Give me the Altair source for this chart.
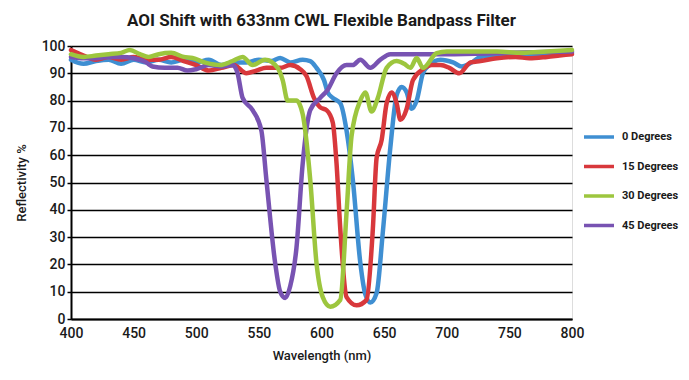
import altair as alt
import pandas as pd

series_names = ["0 Degrees", "15 Degrees", "30 Degrees", "45 Degrees"]
series_colors = ["#3f8fd2", "#d8383c", "#9dc63e", "#7853b2"]
draw_order = ["0 Degrees", "15 Degrees", "45 Degrees", "30 Degrees"]

wl_0 = [400, 410, 420, 430, 440, 450, 460, 470, 480, 490, 500, 510, 520, 530, 540, 550, 560, 567, 575, 585,
        591, 596, 602, 605, 609, 615, 620, 625, 631, 635, 639, 644, 649, 655, 660, 664, 668, 672, 676, 681,
        686, 695, 705, 712, 720, 727, 740, 760, 780, 800]
r_0 = [95, 93.5, 94.5, 95, 93.5, 95, 94, 95, 94, 95, 94, 95, 93, 94, 94, 95, 94.5, 95.6, 94, 95,
       94.5, 92, 87.5, 83, 81, 79, 69, 51, 20.5, 9, 6, 9.5, 32, 63, 82, 85, 83, 77, 80, 90,
       93, 95, 94, 92.5, 94, 96, 96.5, 97, 97, 97.5]

wl_15 = [400, 410, 420, 430, 440, 450, 460, 470, 480, 490, 500, 510, 520, 530, 540, 548, 556, 567, 575, 583,
         588, 594, 599, 604, 609, 612, 615, 620, 628, 636, 641, 644, 648, 652, 656, 660, 663, 668, 673, 681,
         688, 695, 702, 710, 719, 727, 740, 755, 766, 780, 790, 800]
r_15 = [98.5, 96.5, 95, 96, 95, 96, 95, 95, 96, 94.5, 93, 91, 92, 93, 90, 91, 92, 92, 93, 91.5,
        89, 81, 77.5, 76.5, 72, 57, 33, 8, 5, 7, 33, 59, 65.5, 79, 83, 79, 73, 77, 87.5, 91.5,
        93, 93, 92, 90, 94, 94.5, 95.5, 96, 95.5, 96, 96.5, 97]

wl_30 = [400, 410, 420, 430, 440, 447, 455, 462, 470, 480, 490, 497, 508, 519, 529, 537, 545, 555, 565, 569,
         573, 580, 585, 591, 596, 601, 607, 615, 620, 624, 631, 635, 640, 645, 652, 660, 666, 671, 676, 681,
         692, 700, 720, 740, 760, 780, 800]
r_30 = [97, 96, 96.5, 97, 97.5, 98.5, 97, 96, 97, 97.5, 96, 95.6, 93.8, 93, 94.5, 96, 93, 95, 92, 87.5,
        80, 80, 75, 51, 20.5, 8, 4.5, 7, 39, 67, 80, 83, 76, 81, 92, 94.5, 93.5, 92, 95.6, 92,
        97.4, 98, 98, 98, 97.5, 98, 98.5]

wl_45 = [400, 410, 420, 430, 440, 450, 460, 465, 475, 485, 493, 500, 510, 520, 529, 533, 537, 545, 552, 556,
         563, 567, 571, 575, 580, 585, 591, 599, 605, 612, 620, 625, 631, 639, 647, 655, 665, 680, 700, 750, 800]
r_45 = [96, 95.5, 95.5, 96, 96, 95.5, 94, 92.5, 92, 92, 91, 91.5, 93, 92.5, 93, 90, 81, 76.5, 69, 51,
        20.5, 10, 7.7, 12, 26, 57, 76.5, 81, 84, 90, 93, 93, 95, 92, 95, 97, 97, 97, 97, 97.5, 98]

series_data = {
    "0 Degrees": (wl_0, r_0),
    "15 Degrees": (wl_15, r_15),
    "30 Degrees": (wl_30, r_30),
    "45 Degrees": (wl_45, r_45),
}

x_ticks = [400, 450, 500, 550, 600, 650, 700, 750, 800]
y_ticks = [0, 10, 20, 30, 40, 50, 60, 70, 80, 90, 100]

rows = []
for name in draw_order:
    wl, rv = series_data[name]
    for w, r in zip(wl, rv):
        rows.append({"Wavelength": w, "Reflectivity": r, "Series": name})
df = pd.DataFrame(rows)

FONT = "Roboto"
TXT = "#1a1a1a"

chart = alt.Chart(df).mark_line(
    strokeWidth=4.5, interpolate="monotone", strokeJoin="round", strokeCap="round"
).encode(
    x=alt.X("Wavelength:Q",
            scale=alt.Scale(domain=[400, 800], nice=False, zero=False),
            axis=alt.Axis(values=x_ticks, title="Wavelength (nm)", grid=False, ticks=False,
                          domainColor="black", domainWidth=2, labelPadding=7, labelFlush=False,
                          labelFont=FONT, labelFontSize=14, labelFontWeight=500, labelColor=TXT,
                          titleFont=FONT, titleFontSize=13, titleFontWeight=500,
                          titleColor=TXT, titlePadding=9)),
    y=alt.Y("Reflectivity:Q",
            scale=alt.Scale(domain=[0, 100], nice=False),
            axis=alt.Axis(values=y_ticks, title="Reflectivity %", grid=True, gridColor="black",
                          gridWidth=1.6, gridOpacity=1, tickSize=4, tickColor="black", tickWidth=1.5,
                          domainColor="black", domainWidth=2, labelPadding=2, labelFlush=False,
                          labelFont=FONT, labelFontSize=14, labelFontWeight=500, labelColor=TXT,
                          titleFont=FONT, titleFontSize=13, titleFontWeight=500,
                          titleColor=TXT, titlePadding=13)),
    color=alt.Color("Series:N",
                    scale=alt.Scale(domain=series_names, range=series_colors),
                    legend=alt.Legend(title=None, orient="none", legendX=511, legendY=81,
                                      symbolType="stroke", symbolSize=900, symbolStrokeWidth=3.5,
                                      clipHeight=20, rowPadding=9.5, labelOffset=6,
                                      labelFont=FONT, labelFontSize=11, labelFontWeight="bold",
                                      labelColor=TXT)),
).properties(
    width=501, height=273,
    title=alt.TitleParams("AOI Shift with 633nm CWL Flexible Bandpass Filter",
                          font=FONT, fontSize=17, fontWeight="bold", color=TXT,
                          anchor="middle", offset=9),
    padding={"left": 63, "top": 38, "right": 109, "bottom": 45},
    autosize="none",
).configure_view(stroke="black", strokeWidth=2).configure(background="white")

chart.save("out.html", embed_options={"renderer": "svg", "actions": False})
